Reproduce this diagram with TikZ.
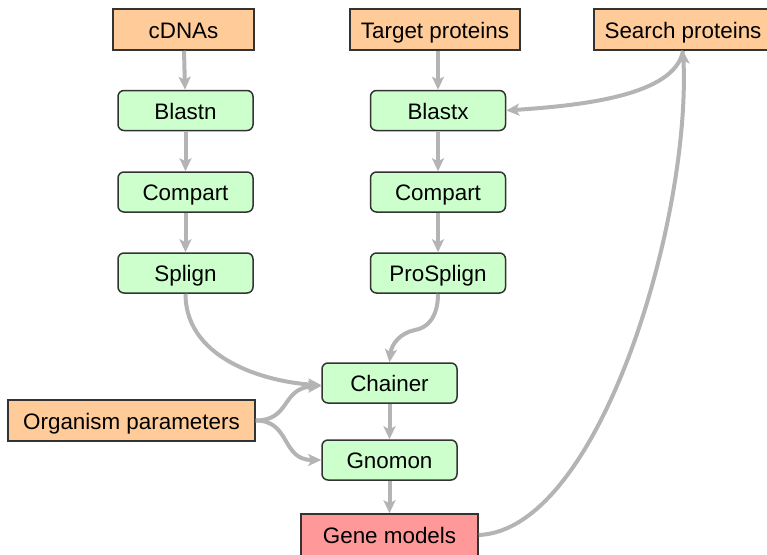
\documentclass[tikz,border=0pt]{standalone}
\usepackage{fontspec}
\setmainfont{Liberation Sans}
\usetikzlibrary{arrows.meta}

\definecolor{inputfill}{HTML}{FFCC99}
\definecolor{toolfill}{HTML}{CCFFCC}
\definecolor{outfill}{HTML}{FF9999}
\definecolor{boxline}{HTML}{333333}
\definecolor{flow}{HTML}{B4B4B4}

\tikzset{
  box/.style={draw=boxline, line width=1.5pt, inner sep=0pt, anchor=center,
    text height=17pt, text depth=0pt,
    font=\fontsize{22.4}{26}\selectfont},
  inbox/.style={box, fill=inputfill},
  toolbox/.style={box, fill=toolfill, rounded corners=6pt, minimum width=135pt, minimum height=40pt},
  outbox/.style={box, fill=outfill},
  flowline/.style={draw=flow, line width=4pt,
    -{Stealth[length=13pt, width=12pt, inset=3pt]}},
}

\begin{document}
\begin{tikzpicture}[x=1pt, y=-1pt]
\useasboundingbox (0,0) rectangle (767,554);

% inputs
\node[inbox, minimum width=141pt, minimum height=41pt] (cdna) at (183.5,29.5) {cDNAs};
\node[inbox, minimum width=170pt, minimum height=41pt] (target) at (435,29.5) {Target proteins};
\node[inbox, minimum width=178pt, minimum height=41pt] (search) at (683,29.5) {Search proteins};
\node[inbox, minimum width=247pt, minimum height=41pt] (org) at (131.5,420.5) {Organism parameters};

% cDNA branch
\node[toolbox] (blastn) at (185.5,110.5) {Blastn};
\node[toolbox] (compartA) at (185.5,192) {Compart};
\node[toolbox] (splign) at (185.5,273) {Splign};

% protein branch
\node[toolbox] (blastx) at (438,110.5) {Blastx};
\node[toolbox] (compartB) at (438,192) {Compart};
\node[toolbox] (prosplign) at (438,273) {ProSplign};

% merging
\node[toolbox] (chainer) at (389.5,383) {Chainer};
\node[toolbox] (gnomon) at (389.5,460) {Gnomon};
\node[outbox, minimum width=177pt, minimum height=42pt] (genes) at (389.5,535) {Gene models};

% straight flows
\draw[flowline] (cdna) -- (blastn);
\draw[flowline] (blastn) -- (compartA);
\draw[flowline] (compartA) -- (splign);
\draw[flowline] (target.south -| blastx) -- (blastx);
\draw[flowline] (blastx) -- (compartB);
\draw[flowline] (compartB) -- (prosplign);
\draw[flowline] (chainer) -- (gnomon);
\draw[flowline] (gnomon) -- (genes);

% curved flows
\draw[flowline] (splign.south) .. controls ++(0,70) and ++(-45,-2) .. ([yshift=-2pt]chainer.west);
\draw[flowline] (prosplign.south) .. controls ++(0,24) and ++(12,-2) .. (415,330)
  .. controls ++(-15,3) and ++(2,-18) .. (chainer.north);
\draw[flowline] (org.east) .. controls ++(35,0) and ++(-40,2) .. ([yshift=-3pt]chainer.west);
\draw[flowline] (org.east) .. controls ++(35,0) and ++(-40,0) .. (gnomon.west);
\draw[flowline] (search.south) .. controls ++(-8,45) and ++(75,-5) .. (blastx.east);
\draw[flowline] (genes.east) .. controls ++(121,-5) and ++(8,168) .. (search.south);
\end{tikzpicture}
\end{document}
